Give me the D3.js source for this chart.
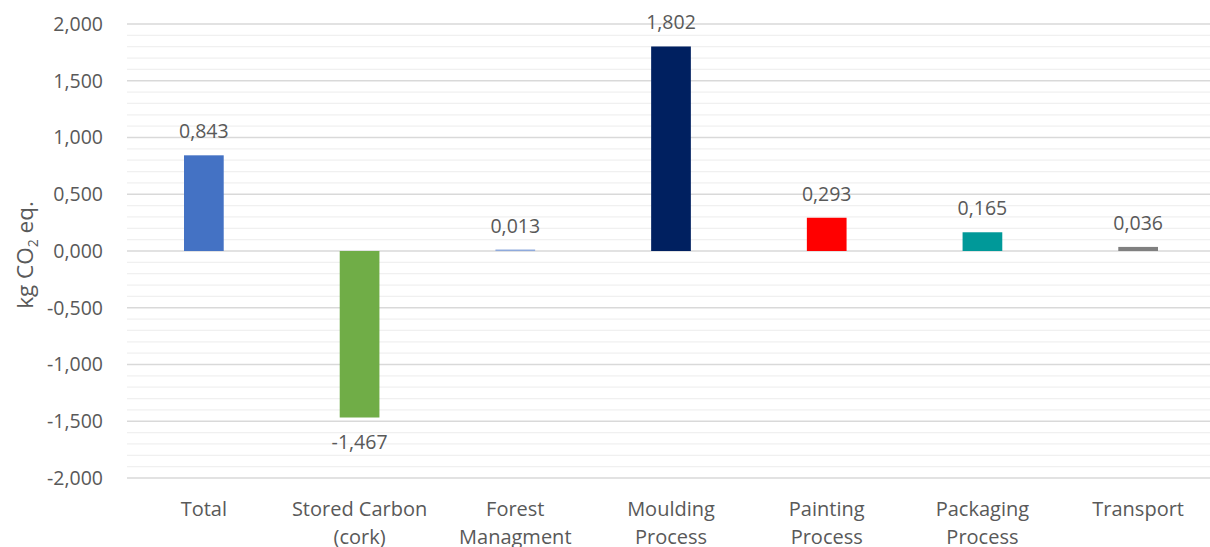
<!DOCTYPE html>
<html><head><meta charset="utf-8">
<script src="https://cdn.jsdelivr.net/npm/d3@7"></script>
<style>body{margin:0;background:#fff}svg{display:block}text{font-family:"Open Sans","Noto Sans",sans-serif;fill:#595959}</style>
</head><body><svg id="c" width="1210" height="547"></svg>
<script>
const categories = [["Total"],["Stored Carbon","(cork)"],["Forest","Managment"],["Moulding","Process"],["Painting","Process"],["Packaging","Process"],["Transport"]];
const values = [0.843,-1.467,0.013,1.802,0.293,0.165,0.036];
const colors = ["#4472C4","#70AD47","#8FAADC","#002060","#FF0000","#009999","#808080"];
const yTicks = [-2,-1.5,-1,-0.5,0,0.5,1,1.5,2];

const svg = d3.select("#c");
const loc = d3.formatLocale({decimal:",",thousands:".",grouping:[3],currency:["",""],minus:"-"});
const fmt = loc.format(".3f");
const y = d3.scaleLinear().domain([-2,2]).range([478,24]);
const x = d3.scaleBand().domain(d3.range(categories.length)).range([126,1216]).paddingInner(0.745).paddingOuter(0.3725);

const minor = d3.range(-20,21).map(d=>d/10).filter(d=>Math.abs(d*2-Math.round(d*2))>1e-6);
svg.append("g").selectAll("line").data(minor).join("line")
  .attr("x1",127).attr("x2",1210).attr("y1",d=>y(d)).attr("y2",d=>y(d))
  .attr("stroke","#f0f0f0").attr("stroke-width",1.3);
svg.append("g").selectAll("line").data(yTicks).join("line")
  .attr("x1",127).attr("x2",1210).attr("y1",d=>y(d)).attr("y2",d=>y(d))
  .attr("stroke","#d9d9d9").attr("stroke-width",1.5);

const yAxis = d3.axisLeft(y).tickValues(yTicks).tickFormat(fmt).tickSize(0).tickPadding(0);
const ga = svg.append("g").attr("transform","translate(103,0)").call(yAxis);
ga.select(".domain").remove();
ga.selectAll("text").attr("font-size",19.5).attr("fill","#595959").style("font-family","'Open Sans','Noto Sans',sans-serif");

svg.append("g").selectAll("rect").data(values).join("rect")
  .attr("x",(d,i)=>x(i)).attr("width",x.bandwidth())
  .attr("y",d=>y(Math.max(0,d))).attr("height",d=>Math.max(1.5,Math.abs(y(d)-y(0))))
  .attr("fill",(d,i)=>colors[i]);

svg.append("g").selectAll("text").data(values).join("text")
  .attr("x",(d,i)=>x(i)+x.bandwidth()/2)
  .attr("y",d=>d>=0? y(d)-17 : y(d)+31)
  .attr("text-anchor","middle").attr("font-size",19.5).text(d=>fmt(d));

const gx = svg.append("g");
categories.forEach((lines,i)=>{
  const t = gx.append("text").attr("text-anchor","middle").attr("font-size",20)
    .attr("x",x(i)+x.bandwidth()/2).attr("y",516);
  lines.forEach((l,j)=>t.append("tspan").attr("x",x(i)+x.bandwidth()/2).attr("dy",j?28:0).text(l));
});

const yl = svg.append("text").attr("transform","translate(33,255) rotate(-90)").attr("text-anchor","middle").attr("font-size",22.5);
yl.append("tspan").text("kg CO");
yl.append("tspan").attr("font-size",14).attr("dy",5).text("2");
yl.append("tspan").attr("dy",-5).text(" eq.");
</script></body></html>
